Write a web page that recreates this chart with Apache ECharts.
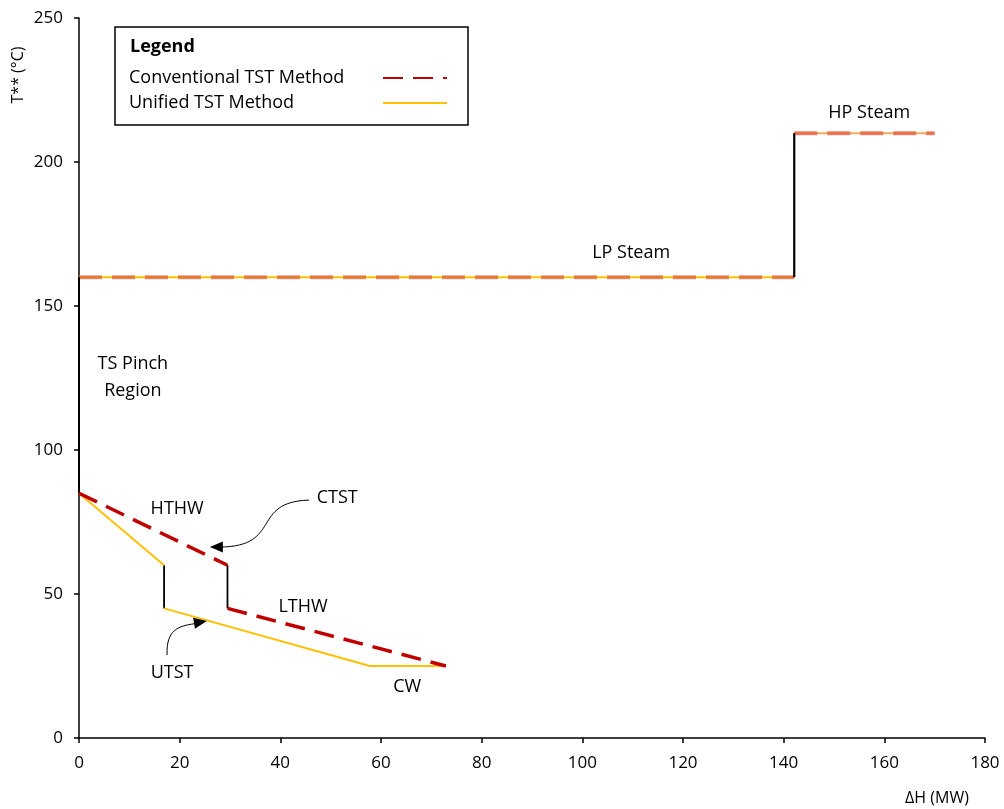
<!DOCTYPE html>
<html><head><meta charset="utf-8">
<script src="https://cdn.jsdelivr.net/npm/echarts@6/dist/echarts.min.js"></script>
<style>html,body{margin:0;padding:0;background:#fff}#c{width:1004px;height:809px}</style>
</head><body><div id="c"></div>
<script>
const FONT = '"Open Sans"';
const xTicks = [0, 20, 40, 60, 80, 100, 120, 140, 160, 180];
const yTicks = [0, 50, 100, 150, 200, 250];
const convHTHW = [[0, 85], [29.5, 60]];
const convLTHW = [[29.5, 45], [72.9, 25]];
const unifiedHot = [[0, 85], [16.9, 60]];
const unifiedCold = [[16.9, 45], [57.8, 25], [72.9, 25]];
const lpSteam = [[0, 160], [142.1, 160]];
const hpSteam = [[142.1, 210], [170, 210]];
const jumpConv = [[29.5, 60], [29.5, 45]];
const jumpUnified = [[16.9, 60], [16.9, 45]];
const jumpSteam = [[142.1, 160], [142.1, 210]];
const jumpPinch = [[0, 85], [0, 160]];
const textLabels = [
  ['HP Steam', 157, 217], ['LP Steam', 109.7, 168.4], ['TS Pinch\nRegion', 10.7, 125.3],
  ['HTHW', 19.5, 79.5], ['CTST', 51.3, 83.3], ['LTHW', 44.5, 45.5],
  ['UTST', 18.5, 22.6], ['CW', 65.2, 17.7]
];
// arrows: start, cp1, cp2, end, tip (data coords)
const arrowCTST = [[45.7, 82.6], [34.0, 82.0], [40.5, 66.5], [28.0, 66.3], [26.0, 66.3]];
const arrowUTST = [[17.5, 28.8], [17.3, 37.5], [19.7, 38.9], [23.0, 39.7], [25.4, 40.6]];

const RED = '#C00000', YEL = '#FFC000';
function line(name, data, style, z) {
  return {name, type: 'line', data, symbol: 'none', silent: true, z: z || 2, lineStyle: style,
    itemStyle: {color: style.color}, animation: false};
}
const chart = echarts.init(document.getElementById('c'));
const option = {
  animation: false,
  textStyle: {fontFamily: FONT},
  grid: {left: 79, right: 19, top: 18, bottom: 71},
  xAxis: {type: 'value', min: 0, max: 180, interval: 20, splitLine: {show: false},
    axisLine: {lineStyle: {color: '#000', width: 1.5}}, axisTick: {show: true, length: 5, lineStyle: {color: '#000', width: 1.5}},
    axisLabel: {color: '#000', fontSize: 17, fontFamily: FONT, margin: 17, formatter: v => xTicks.includes(v) ? String(v) : ''}},
  yAxis: {type: 'value', min: 0, max: 250, interval: 50, splitLine: {show: false},
    axisLine: {show: true, lineStyle: {color: '#000', width: 1.5}}, axisTick: {show: true, length: 5, lineStyle: {color: '#000', width: 1.5}},
    axisLabel: {color: '#000', fontSize: 17, fontFamily: FONT, margin: 16, formatter: v => yTicks.includes(v) ? String(v) : ''}},
  legend: {
    orient: 'vertical', left: 115, top: 27, data: ['Conventional TST Method', 'Unified TST Method'],
    borderColor: '#000', borderWidth: 1.5, padding: [40, 20, 11, 14], itemGap: 3,
    itemWidth: 64, itemHeight: 10, align: 'right', selectedMode: false,
    itemStyle: {opacity: 0},
    formatter: n => '{a|' + n + '}',
    textStyle: {fontSize: 18, fontFamily: FONT, color: '#000', lineHeight: 22,
      rich: {a: {width: 249, align: 'left', fontSize: 18, fontFamily: FONT, color: '#000', lineHeight: 22}}}
  },
  series: [
    line('lpSolid', lpSteam, {color: YEL, width: 2}, 2),
    line('lpDash', lpSteam, {color: 'rgba(215,70,50,0.6)', width: 4, type: [23, 10]}, 3),
    line('hpSolid', hpSteam, {color: '#F7A85A', width: 2}, 2),
    line('hpDash', hpSteam, {color: 'rgba(225,95,65,0.75)', width: 4, type: [23, 10]}, 3),
    line('j1', jumpConv, {color: '#000', width: 1.8}, 4),
    line('j2', jumpUnified, {color: '#000', width: 1.8}, 4),
    line('j3', jumpSteam, {color: '#000', width: 2.2}, 4),
    line('j4', jumpPinch, {color: '#000', width: 2}, 4),
    line('Unified TST Method', unifiedHot, {color: YEL, width: 2}, 5),
    line('Unified TST Method', unifiedCold, {color: YEL, width: 2}, 5),
    line('Conventional TST Method', convHTHW, {color: RED, width: 3.5, type: [20, 10]}, 6),
    line('Conventional TST Method', convLTHW, {color: RED, width: 3.5, type: [20, 10]}, 6),
    {name: 'labels', type: 'scatter', symbolSize: 0, silent: true, z: 7,
      itemStyle: {opacity: 1, color: '#000'},
      data: textLabels.map(t => ({name: t[0], value: [t[1], t[2]]})),
      label: {show: true, position: 'inside', formatter: p => p.name, color: '#000', opacity: 1, textBorderWidth: 0,
        fontSize: 18, fontFamily: FONT, lineHeight: 27, align: 'center'}}
  ]
};
chart.setOption(option);

function px(p) { return chart.convertToPixel({xAxisIndex: 0, yAxisIndex: 0}, p); }
function arrow(a) {
  const P = a.map(px);
  const [s, c1, c2, e, t] = P;
  const dx = t[0] - c2[0], dy = t[1] - c2[1], L = Math.hypot(dx, dy);
  const ux = dx / L, uy = dy / L, hl = 13, hw = 5.5;
  const bx = t[0] - ux * hl, by = t[1] - uy * hl;
  return [
    {type: 'bezierCurve', shape: {x1: s[0], y1: s[1], cpx1: c1[0], cpy1: c1[1], cpx2: c2[0], cpy2: c2[1], x2: e[0], y2: e[1]},
      style: {stroke: '#000', lineWidth: 1, fill: null}, z: 10},
    {type: 'polygon', shape: {points: [[t[0], t[1]], [bx - uy * hw, by + ux * hw], [bx + uy * hw, by - ux * hw]]},
      style: {fill: '#000'}, z: 10}
  ];
}
chart.setOption({graphic: [
  {type: 'text', left: 130, top: 38, style: {text: 'Legend', font: 'bold 18px ' + FONT, fill: '#000'}},
  {type: 'text', x: 18, y: 75, rotation: Math.PI / 2, style: {text: 'T** (°C)', font: '16px ' + FONT, fill: '#000', align: 'center', verticalAlign: 'middle'}},
  {type: 'text', x: 937, y: 798, style: {text: 'ΔH (MW)', font: '16px ' + FONT, fill: '#000', align: 'center', verticalAlign: 'middle'}},
  ...arrow(arrowCTST), ...arrow(arrowUTST)
]});
</script></body></html>
